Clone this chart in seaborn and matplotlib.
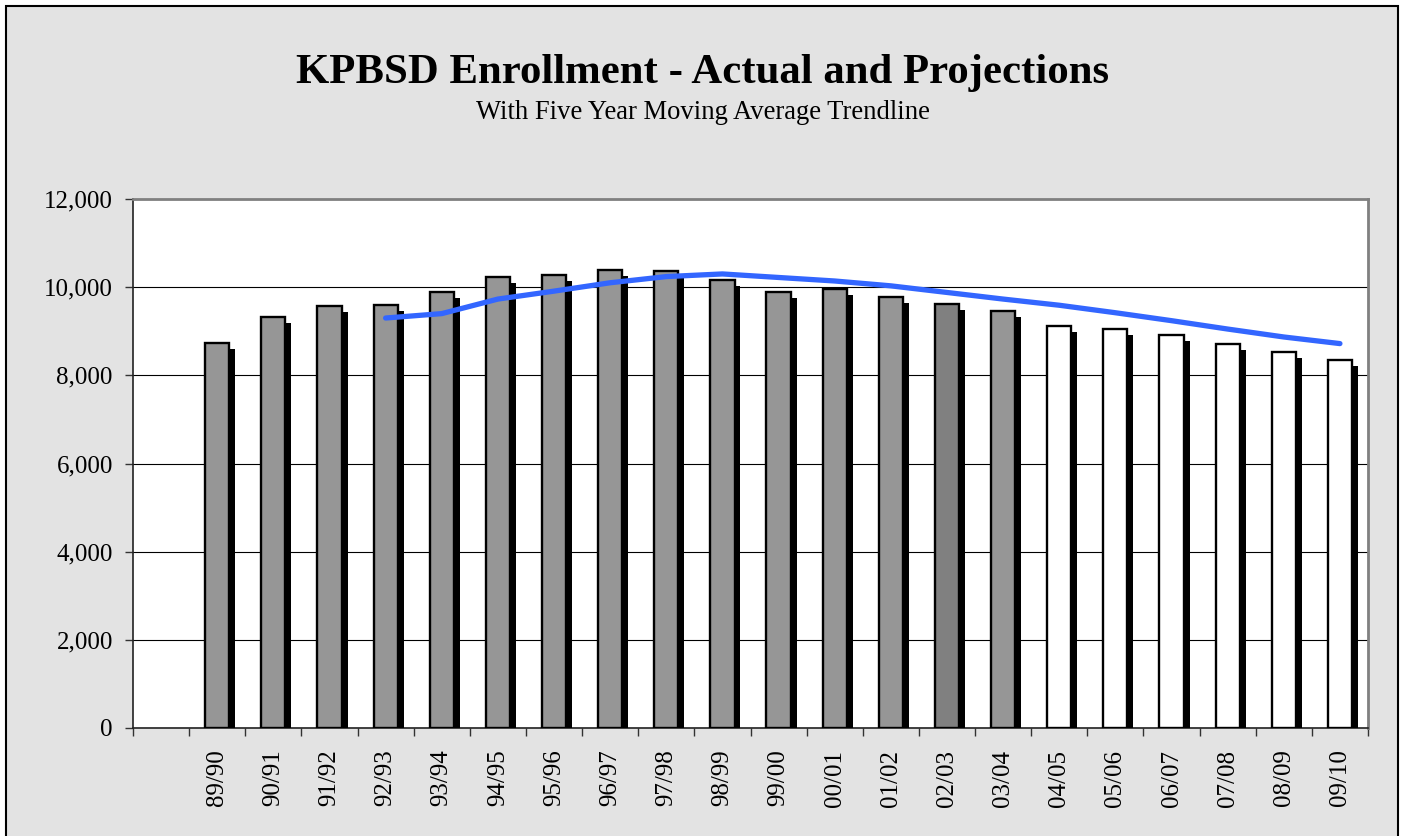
# KPBSD enrollment chart - actual and projected, with 5 yr moving average
import pandas as pd
import matplotlib
matplotlib.use('Agg')
import matplotlib.pyplot as plt
import matplotlib.patheffects as pe
from matplotlib.patches import Rectangle
from matplotlib.ticker import FuncFormatter
import seaborn as sns

# school years (first slot on the axis is left empty in the original)
years = ['89/90', '90/91', '91/92', '92/93', '93/94', '94/95', '95/96', '96/97',
         '97/98', '98/99', '99/00', '00/01', '01/02', '02/03', '03/04',
         '04/05', '05/06', '06/07', '07/08', '08/09', '09/10']
enrollment = [8740, 9330, 9580, 9600, 9900, 10230, 10280, 10390, 10370, 10170,
              9890, 9960, 9780, 9620, 9460, 9130, 9050, 8920, 8720, 8540, 8350]
# A = actual, C = current year, P = projection
status = ['A'] * 13 + ['C', 'A'] + ['P'] * 6

# five year moving average starts at 92/93
trend_years = years[3:]
trend = [9300, 9400, 9730, 9910, 10100, 10240, 10300, 10220, 10140, 10030,
         9880, 9730, 9590, 9420, 9240, 9050, 8870, 8720]

order = [''] + years
df = pd.DataFrame({'year': years, 'enroll': enrollment, 'status': status})
df_tr = pd.DataFrame({'pos': [order.index(y) for y in trend_years], 'avg': trend})

status_colors = {'A': '#969696', 'C': '#808080', 'P': '#ffffff'}
pal = {y: status_colors[s] for y, s in zip(years, status)}

plt.rcParams['font.family'] = ['Liberation Serif', 'DejaVu Serif']

fig = plt.figure(figsize=(14.03, 8.36), dpi=100, facecolor='white')
# grey chart area with black frame
fig.patches.append(Rectangle((6 / 1403, -0.02), 1392 / 1403, 1.02 - 6 / 836,
                             transform=fig.transFigure, facecolor='#e3e3e3',
                             edgecolor='black', linewidth=1.5, zorder=-10))
ax = fig.add_axes([133 / 1403, 108 / 836, 1235 / 1403, 529 / 836])
ax.set_zorder(1)
ax.set_facecolor('white')

sns.barplot(data=df, x='year', y='enroll', hue='year', palette=pal, order=order,
            legend=False, width=0.43, edgecolor='black', linewidth=1.7,
            errorbar=None, ax=ax, zorder=3)
for p in ax.patches:
    p.set_path_effects([pe.SimplePatchShadow(offset=(4.3, -4.5), shadow_rgbFace='black', alpha=1.0),
                        pe.Normal()])

sns.lineplot(data=df_tr, x='pos', y='avg', color='#3366ff', linewidth=3.8,
             solid_capstyle='round', ax=ax, zorder=4)

ax.set_xlim(-0.5, len(order) - 0.5)
ax.set_ylim(0, 12000)
ax.set_yticks(range(0, 12001, 2000))
ax.yaxis.set_major_formatter(FuncFormatter(lambda v, _: f'{int(v):,}'))
ax.grid(axis='y', color='black', linewidth=0.8)
ax.set_axisbelow(True)

# tick marks between categories, labels at centres
ax.set_xticks([i - 0.5 for i in range(len(order) + 1)], [''] * (len(order) + 1))
ax.set_xticks(range(1, len(order)), years, minor=True)
ax.tick_params(axis='x', which='major', direction='out', length=6, width=1, color='#333333')
ax.tick_params(axis='x', which='minor', length=0, pad=15.5, labelsize=18, labelrotation=90)
ax.tick_params(axis='y', direction='out', length=6, width=1, color='#333333', pad=8.5, labelsize=18)

ax.set_xlabel('')
ax.set_ylabel('')
for s in ['left', 'bottom']:
    ax.spines[s].set_color('#222222')
    ax.spines[s].set_linewidth(1.2)
for s in ['top', 'right']:
    ax.spines[s].set_color('#808080')
    ax.spines[s].set_linewidth(2)

fig.text(0.501, 1 - 83 / 836, 'KPBSD Enrollment - Actual and Projections',
         ha='center', va='baseline', fontsize=30.8, fontweight='bold')
fig.text(0.501, 1 - 119 / 836, 'With Five Year Moving Average Trendline',
         ha='center', va='baseline', fontsize=19.2)

plt.savefig('out.png', dpi=100, facecolor=fig.get_facecolor())
